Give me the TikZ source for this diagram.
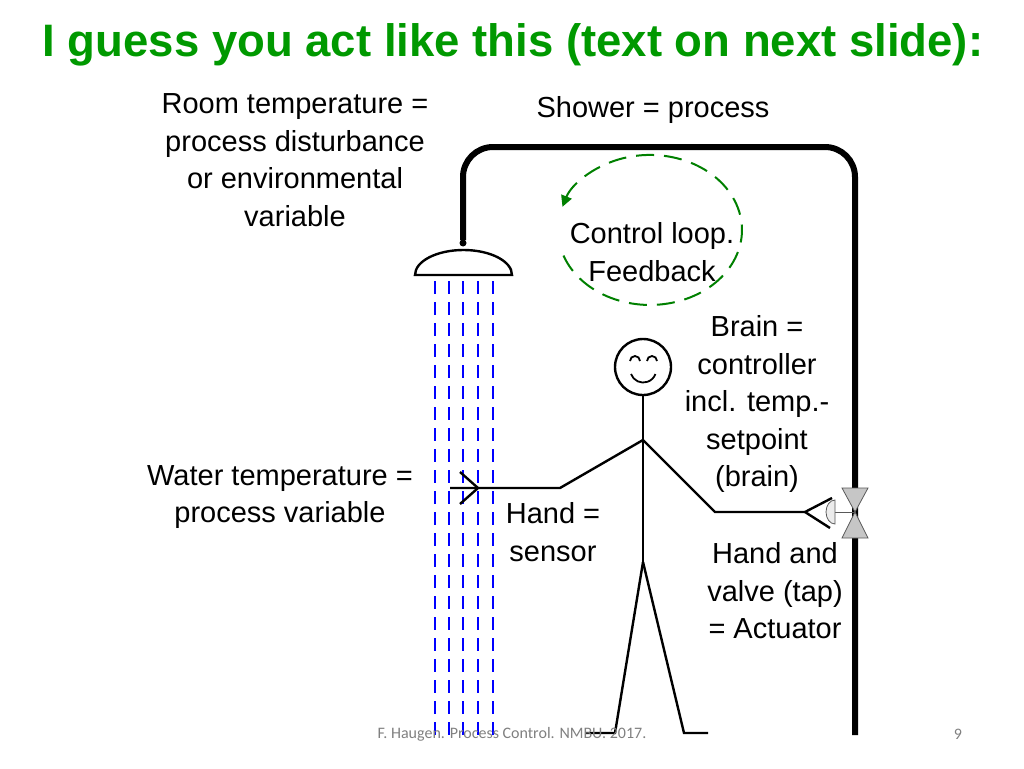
\documentclass[tikz,border=0pt]{standalone}
\usepackage{fontspec}
\setmainfont{Liberation Sans}
\newfontfamily\footfont{Carlito}
\usetikzlibrary{arrows.meta}
\begin{document}
\begin{tikzpicture}[x=1pt,y=-1pt]
	\tikzstyle{label} = [align=center, font=\fontsize{29}{37.5}\selectfont, inner sep=0]
	\tikzstyle{stick} = [line width=2.4pt, black]
	\tikzstyle{pipe} = [line width=6pt, black, rounded corners=30pt]
	\tikzstyle{rain} = [blue, line width=2pt, dash pattern=on 13pt off 8pt]
	\tikzstyle{loop_line} = [-{Triangle[length=11pt,width=11pt]}, green!50!black, line width=2pt, dash pattern=on 18pt off 10pt]
	\useasboundingbox (0,0) rectangle (1024,768);

	% Title
	\node[font=\fontsize{45.5}{52}\selectfont\bfseries, text=green!60!black, inner sep=0](title) at (513,45) {I guess you act like this (text on next slide):};

	% Pipe and shower head
	\coordinate (pipe_top) at (463,240);
	\coordinate (pipe_end) at (855,735);
	\draw[pipe] (pipe_top) -- (463,147) -- (855,147) -- (pipe_end);
	\fill (463,243) circle (3.5);
	\draw[stick] (415,275) arc[start angle=180, end angle=360, x radius=48.5, y radius=25] -- cycle;

	% Rain
	\foreach \x in {435,449,463,478,493} {
			\draw[rain] (\x,281) -- (\x,735);
		};

	% Control loop
	\draw[loop_line] (563.5,255.6) arc[start angle=-200, end angle=-522, x radius=92, y radius=75];
	\node[label](loop) at (652,252) {Control loop.\\Feedback};

	% Stick figure
	\node[circle, draw, line width=2.4pt, minimum size=56pt, inner sep=0](head) at (643,367) {};
	\draw[line width=1.8pt] (630,361) arc[start angle=180, end angle=360, radius=5];
	\draw[line width=1.8pt] (647,361) arc[start angle=180, end angle=360, radius=5];
	\draw[line width=1.8pt] (631,374) arc[start angle=160, end angle=20, radius=13];
	\coordinate (shoulder) at (643,440);
	\coordinate (hip) at (643,562);
	\draw[stick] (head.south) -- (shoulder) -- (hip);
	\draw[stick] (shoulder) -- (560,488) -- (450,488);
	\draw[stick] (460,472) -- (478,488) -- (460,504);
	\draw[stick] (shoulder) -- (715,512) -- (805,512);
	\draw[stick] (805,512) -- (832,498) (805,512) -- (830,528);
	\draw[stick] (hip) -- (615,733) -- (585,733);
	\draw[stick] (hip) -- (684,733) -- (708,733);

	% Valve
	\coordinate (valve) at (855,512);
	\draw[fill=gray!45, draw=gray!70!black, line width=0.8pt] (842,488) -- (868,488) -- (valve) -- cycle;
	\draw[fill=gray!45, draw=gray!70!black, line width=0.8pt] (842,538) -- (868,538) -- (valve) -- cycle;
	\draw[gray!70!black, line width=0.8pt] (valve) -- (835,512);
	\draw[gray!70!black, fill=gray!15, line width=0.8pt] (835,500) arc[start angle=-90, end angle=-270, x radius=9, y radius=12] -- cycle;

	% Labels
	\node[label](room) at (295,160) {Room temperature =\\process disturbance\\or environmental\\variable};
	\node[label](shower) at (653,110) {Shower = process};
	\node[label](brain) at (757,404) {Brain =\\controller\\incl. temp.-\\setpoint\\(brain)};
	\node[label](water) at (280,497) {Water temperature =\\process variable};
	\node[label](hand) at (553,532) {Hand =\\sensor};
	\node[label](actuator) at (775,591) {Hand and\\valve (tap)\\= Actuator};

	% Footer
	\node[font=\footfont\fontsize{16}{18}\selectfont, text=gray, inner sep=0](footer) at (512,734) {F. Haugen. Process Control. NMBU. 2017.};
	\node[font=\footfont\fontsize{16}{18}\selectfont, text=gray, inner sep=0](page) at (958,734) {9};
\end{tikzpicture}
\end{document}
